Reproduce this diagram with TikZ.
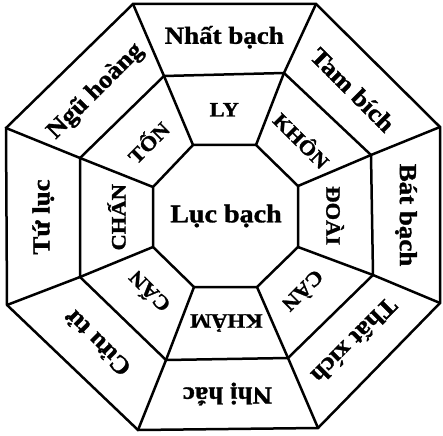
\documentclass[tikz,border=0pt]{standalone}
\usepackage{fontspec}
\setmainfont[BoldFeatures={FakeBold=1.2}]{Liberation Serif}
\usetikzlibrary{calc}
\tikzset{
  edge/.style={line width=2.5pt, line join=miter},
  outerlbl/.style={inner sep=0pt, font=\fontsize{24.5}{24.5}\selectfont\bfseries},
  innerlbl/.style={inner sep=0pt, font=\fontsize{20.5}{20.5}\selectfont\bfseries},
  centerlbl/.style={inner sep=0pt, font=\fontsize{25.5}{25.5}\selectfont\bfseries},
}
\newcommand{\wdtxt}[1]{\scalebox{1.1}[1]{#1}}
\begin{document}
\begin{tikzpicture}[x=1pt,y=-1pt]
\useasboundingbox (0,0) rectangle (443,435);
% outer
\coordinate (O1) at (133,4);
\coordinate (O2) at (316,4);
\coordinate (O3) at (440,127);
\coordinate (O4) at (440,303);
\coordinate (O5) at (318,428);
\coordinate (O6) at (138,430);
\coordinate (O7) at (7,305);
\coordinate (O8) at (6,128);
% middle
\coordinate (M1) at (164,76);
\coordinate (M2) at (284,73);
\coordinate (M3) at (371,155);
\coordinate (M4) at (373,275);
\coordinate (M5) at (288,358);
\coordinate (M6) at (166,360);
\coordinate (M7) at (80,277);
\coordinate (M8) at (80,158);
% inner
\coordinate (I1) at (193,145);
\coordinate (I2) at (256,145);
\coordinate (I3) at (298,186);
\coordinate (I4) at (298,247);
\coordinate (I5) at (257,287);
\coordinate (I6) at (194,287);
\coordinate (I7) at (153,247);
\coordinate (I8) at (153,187);
\draw[edge] (O1)--(O2)--(O3)--(O4)--(O5)--(O6)--(O7)--(O8)--cycle;
\draw[edge] (M1)--(M2)--(M3)--(M4)--(M5)--(M6)--(M7)--(M8)--cycle;
\draw[edge] (I1)--(I2)--(I3)--(I4)--(I5)--(I6)--(I7)--(I8)--cycle;
\foreach \k in {1,...,8}{\draw[edge] (O\k)--(M\k)--(I\k);}
% outer labels
\node[outerlbl] (n1) at ($.25*(O1)+.25*(O2)+.25*(M1)+.25*(M2)+(0,-2)$) {\wdtxt{Nhất bạch}};
\node[outerlbl,rotate=-45] (n3) at ($.25*(O2)+.25*(O3)+.25*(M2)+.25*(M3)$) {\wdtxt{Tam bích}};
\node[outerlbl,rotate=-90] (n8) at ($.25*(O3)+.25*(O4)+.25*(M3)+.25*(M4)$) {\wdtxt{Bát bạch}};
\node[outerlbl,rotate=-135] (n7) at ($.25*(O4)+.25*(O5)+.25*(M4)+.25*(M5)$) {\wdtxt{Thất xích}};
\node[outerlbl,rotate=180] (n2) at ($.25*(O5)+.25*(O6)+.25*(M5)+.25*(M6)$) {\wdtxt{Nhị hắc}};
\node[outerlbl,rotate=135] (n9) at ($.25*(O6)+.25*(O7)+.25*(M6)+.25*(M7)$) {\wdtxt{Cửu tử}};
\node[outerlbl,rotate=90] (n4) at ($.25*(O7)+.25*(O8)+.25*(M7)+.25*(M8)$) {\wdtxt{Tứ lục}};
\node[outerlbl,rotate=45] (n5) at ($.25*(O8)+.25*(O1)+.25*(M8)+.25*(M1)$) {\wdtxt{Ngũ hoàng}};
% inner labels
\node[innerlbl] (ly) at ($.25*(M1)+.25*(M2)+.25*(I1)+.25*(I2)$) {\wdtxt{LY}};
\node[innerlbl,rotate=-45] (khon) at ($.25*(M2)+.25*(M3)+.25*(I2)+.25*(I3)$) {\wdtxt{KHÔN}};
\node[innerlbl,rotate=-90] (doai) at ($.25*(M3)+.25*(M4)+.25*(I3)+.25*(I4)$) {\wdtxt{ĐOÀI}};
\node[innerlbl,rotate=-135] (can1) at ($.25*(M4)+.25*(M5)+.25*(I4)+.25*(I5)$) {\wdtxt{CÀN}};
\node[innerlbl,rotate=180] (kham) at ($.25*(M5)+.25*(M6)+.25*(I5)+.25*(I6)$) {\wdtxt{KHẢM}};
\node[innerlbl,rotate=135] (can2) at ($.25*(M6)+.25*(M7)+.25*(I6)+.25*(I7)$) {\wdtxt{CẤN}};
\node[innerlbl,rotate=90] (chan) at ($.25*(M7)+.25*(M8)+.25*(I7)+.25*(I8)$) {\wdtxt{CHẤN}};
\node[innerlbl,rotate=45] (ton) at ($.25*(M8)+.25*(M1)+.25*(I8)+.25*(I1)$) {\wdtxt{TỐN}};
% center
\node[centerlbl] (c) at (226,216) {\wdtxt{Lục bạch}};
\end{tikzpicture}
\end{document}
